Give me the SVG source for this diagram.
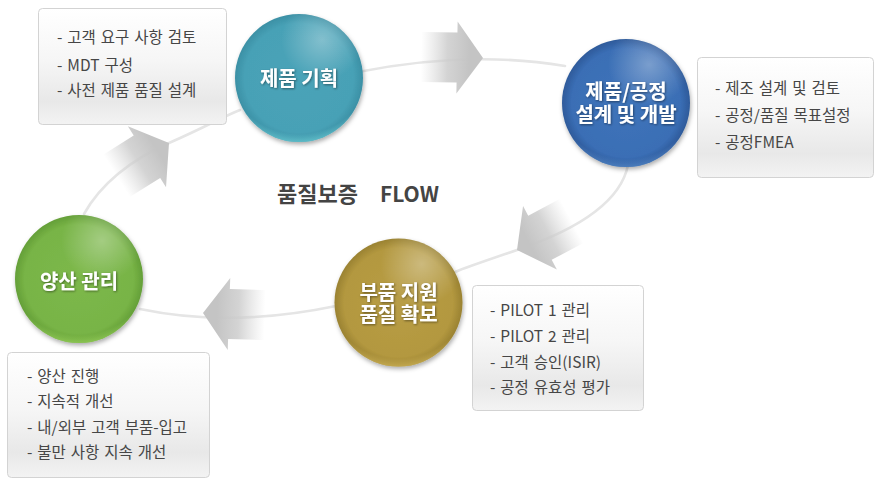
<svg xmlns="http://www.w3.org/2000/svg" width="880" height="485" viewBox="0 0 880 485">
<defs>
<style>
.lbl{font-family:"Noto Sans CJK KR","Noto Sans",sans-serif;font-weight:700;font-size:20px;fill:#fff;text-anchor:middle;filter:url(#ts)}
.box{fill:url(#boxg);stroke:#d3d3d3;stroke-width:1}
.bt{font-family:"Noto Sans CJK KR","Noto Sans",sans-serif;font-size:15.5px;fill:#464646;word-spacing:1.5px}
.title{font-family:"Noto Sans CJK KR","Noto Sans",sans-serif;font-weight:700;font-size:22px;fill:#444444}
.flow{fill:none;stroke:#e5e5e5;stroke-width:2.6;stroke-linecap:round}
.hl{fill:url(#hlg)}
</style>
<filter id="ds" x="-20%" y="-20%" width="150%" height="150%">
<feDropShadow dx="1" dy="2.5" stdDeviation="2" flood-color="#000" flood-opacity="0.32"/>
</filter>
<filter id="ts" x="-10%" y="-20%" width="120%" height="150%">
<feDropShadow dx="0.8" dy="1" stdDeviation="0.8" flood-color="#000" flood-opacity="0.45"/>
</filter>
<linearGradient id="boxg" x1="0" y1="0" x2="0" y2="1">
<stop offset="0" stop-color="#ffffff"/>
<stop offset="0.45" stop-color="#f6f6f6"/>
<stop offset="0.8" stop-color="#e8e8e8"/>
<stop offset="1" stop-color="#f3f3f3"/>
</linearGradient>
<radialGradient id="hlg" cx="0.68" cy="0.2" r="0.32">
<stop offset="0" stop-color="#fff" stop-opacity="0.32"/>
<stop offset="1" stop-color="#fff" stop-opacity="0"/>
</radialGradient>
<radialGradient id="tealg" cx="0.5" cy="0.5" r="0.5">
<stop offset="0" stop-color="#4aa3b8"/>
<stop offset="0.85" stop-color="#47a1b6"/>
<stop offset="1" stop-color="#3c90a5"/>
</radialGradient>
<radialGradient id="tealr" cx="0.5" cy="0.35" r="0.7">
<stop offset="0.84" stop-color="#6fd3da" stop-opacity="0"/>
<stop offset="0.95" stop-color="#6fd3da" stop-opacity="0.8"/>
</radialGradient>
<radialGradient id="blueg" cx="0.5" cy="0.5" r="0.5">
<stop offset="0" stop-color="#3e74ba"/>
<stop offset="0.85" stop-color="#3a6eb5"/>
<stop offset="1" stop-color="#2e5a9a"/>
</radialGradient>
<radialGradient id="bluer" cx="0.5" cy="0.35" r="0.7">
<stop offset="0.84" stop-color="#5e96d6" stop-opacity="0"/>
<stop offset="0.95" stop-color="#5e96d6" stop-opacity="0.7"/>
</radialGradient>
<radialGradient id="greeng" cx="0.5" cy="0.5" r="0.5">
<stop offset="0" stop-color="#7cb84b"/>
<stop offset="0.85" stop-color="#78b446"/>
<stop offset="1" stop-color="#649f38"/>
</radialGradient>
<radialGradient id="greenr" cx="0.5" cy="0.35" r="0.7">
<stop offset="0.84" stop-color="#a4dc62" stop-opacity="0"/>
<stop offset="0.95" stop-color="#a4dc62" stop-opacity="0.75"/>
</radialGradient>
<radialGradient id="goldg" cx="0.5" cy="0.5" r="0.5">
<stop offset="0" stop-color="#b89d46"/>
<stop offset="0.85" stop-color="#b3983f"/>
<stop offset="1" stop-color="#9a8232"/>
</radialGradient>
<radialGradient id="goldr" cx="0.5" cy="0.35" r="0.7">
<stop offset="0.84" stop-color="#dcc060" stop-opacity="0"/>
<stop offset="0.95" stop-color="#dcc060" stop-opacity="0.75"/>
</radialGradient>
<linearGradient id="shaft" gradientUnits="userSpaceOnUse" x1="-62" y1="0" x2="-14" y2="0">
<stop offset="0" stop-color="#d4d4d4" stop-opacity="0"/>
<stop offset="0.55" stop-color="#cccccc" stop-opacity="0.85"/>
<stop offset="1" stop-color="#c4c4c4" stop-opacity="1"/>
</linearGradient>
<path id="arr" d="M0,0 L-26,-36 L-26,-25 L-62,-25 L-62,25 L-26,25 L-26,36 Z"/>
</defs>

<rect width="880" height="485" fill="#ffffff"/>

<g id="connectors">
<path class="flow" d="M84,214 C100,185 130,160 169,143 S222,117 240,110"/>
<path class="flow" d="M358,72 Q470,50 565,66"/>
<path class="flow" d="M628,165 C620,205 570,232 517,250 S470,266 455,272"/>
<path class="flow" d="M336,306 Q230,328 140,309"/>
<use href="#arr" fill="url(#shaft)" transform="translate(483,58) rotate(1)"/>
<use href="#arr" fill="url(#shaft)" transform="translate(517,250) rotate(152)"/>
<use href="#arr" fill="url(#shaft)" transform="translate(203,313) rotate(182)"/>
<use href="#arr" fill="url(#shaft)" transform="translate(169,143) rotate(-32)"/>
</g>

<g id="note-plan">
<rect class="box" x="38.5" y="8.5" width="188" height="116" rx="4"/>
<text class="bt" x="57" y="43">- 고객 요구 사항 검토</text>
<text class="bt" x="57" y="70.5">- MDT 구성</text>
<text class="bt" x="57" y="96">- 사전 제품 품질 설계</text>
</g>

<g id="note-design">
<rect class="box" x="697.5" y="57.5" width="176" height="120" rx="4"/>
<text class="bt" x="715" y="94">- 제조 설계 및 검토</text>
<text class="bt" x="715" y="120.5">- 공정/품질 목표설정</text>
<text class="bt" x="715" y="148">- 공정FMEA</text>
</g>

<g id="note-mass">
<rect class="box" x="7.5" y="352.5" width="202" height="125" rx="4"/>
<text class="bt" x="27" y="381.5">- 양산 진행</text>
<text class="bt" x="27" y="406.5">- 지속적 개선</text>
<text class="bt" x="27" y="432.5">- 내/외부 고객 부품-입고</text>
<text class="bt" x="27" y="457.5">- 불만 사항 지속 개선</text>
</g>

<g id="note-parts">
<rect class="box" x="472.5" y="285.5" width="171" height="125" rx="4"/>
<text class="bt" x="490" y="315.5">- PILOT 1 관리</text>
<text class="bt" x="490" y="341.5">- PILOT 2 관리</text>
<text class="bt" x="490" y="367.5">- 고객 승인(ISIR)</text>
<text class="bt" x="490" y="392.5">- 공정 유효성 평가</text>
</g>

<g id="node-plan">
<circle cx="299" cy="78" r="64" fill="url(#tealg)" filter="url(#ds)"/>
<circle cx="299" cy="78" r="64" fill="url(#tealr)"/>
<circle cx="299" cy="78" r="64" class="hl"/>
<text class="lbl" x="299" y="86">제품 기획</text>
</g>

<g id="node-design">
<circle cx="626" cy="103" r="64" fill="url(#blueg)" filter="url(#ds)"/>
<circle cx="626" cy="103" r="64" fill="url(#bluer)"/>
<circle cx="626" cy="103" r="64" class="hl"/>
<text class="lbl" x="626" y="99">제품/공정<tspan x="626" y="122">설계 및 개발</tspan></text>
</g>

<g id="node-parts">
<circle cx="398.5" cy="302.5" r="64" fill="url(#goldg)" filter="url(#ds)"/>
<circle cx="398.5" cy="302.5" r="64" fill="url(#goldr)"/>
<circle cx="398.5" cy="302.5" r="64" class="hl"/>
<text class="lbl" x="398.5" y="300">부품 지원<tspan x="398.5" y="322">품질 확보</tspan></text>
</g>

<g id="node-mass">
<circle cx="79" cy="279" r="64" fill="url(#greeng)" filter="url(#ds)"/>
<circle cx="79" cy="279" r="64" fill="url(#greenr)"/>
<circle cx="79" cy="279" r="64" class="hl"/>
<text class="lbl" x="79" y="289">양산 관리</text>
</g>

<g id="title">
<text class="title" x="277" y="202">품질보증<tspan x="380" font-size="21">FLOW</tspan></text>
</g>
</svg>
